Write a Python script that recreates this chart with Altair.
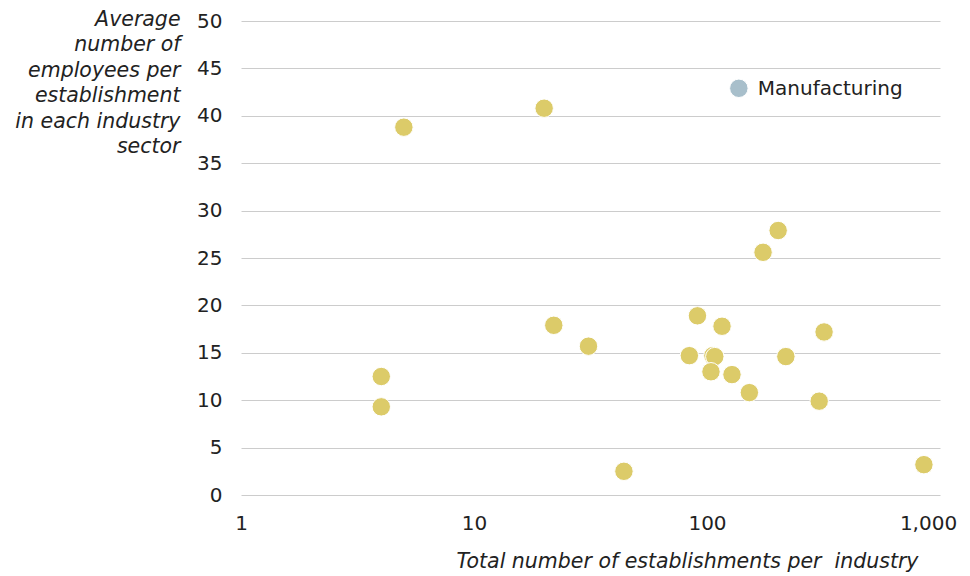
import altair as alt
import pandas as pd

establishments = [4, 4, 5, 20, 22, 31, 44, 84, 91, 106, 108, 104, 128, 116, 152, 218, 318, 303, 174, 202, 853]
employees = [12.5, 9.3, 38.8, 40.8, 17.9, 15.7, 2.5, 14.7, 18.9, 14.7, 14.6, 13.0, 12.7, 17.8, 10.8, 14.6, 17.2, 9.9, 25.6, 27.9, 3.2]

manu_label = ["Manufacturing"]
manu_x = [137]
manu_y = [42.9]

y_title = ["Average", "number of", "employees per", "establishment", "in each industry", "sector"]
x_title = "Total number of establishments per\u00a0 industry"
x_ticks = [1, 10, 100, 1000]
y_ticks = [0, 5, 10, 15, 20, 25, 30, 35, 40, 45, 50]

df = pd.DataFrame({"x": establishments, "y": employees})
dm = pd.DataFrame({"x": manu_x, "y": manu_y, "label": manu_label})

FONT = "DejaVu Sans"
FS = 20
TFS = 20.5

xs = alt.Scale(type="log", domain=[1, 1000])
ys = alt.Scale(domain=[0, 50])

xenc = alt.X("x:Q", scale=xs, axis=alt.Axis(
    values=x_ticks, format=",d", grid=False, domain=False, ticks=False,
    labelFont=FONT, labelFontSize=FS, labelColor="#222", labelPadding=18,
    labelFlush=False, labelOverlap=False,
    labelOffset={"condition": {"test": "datum.value >= 1000", "value": -12}, "value": 0},
    title=x_title, titleFont=FONT, titleFontSize=TFS, titleFontStyle="italic",
    titleFontWeight="normal", titleColor="#222", titleAlign="right",
    titleAnchor="start", titleX=677, titleY=76, titleBaseline="bottom"))
yenc = alt.Y("y:Q", scale=ys, axis=alt.Axis(
    values=y_ticks, grid=True, gridColor="#cccccc", gridWidth=1,
    domain=False, ticks=False, labelFont=FONT, labelFontSize=FS,
    labelColor="#222", labelPadding=19,
    title=y_title, titleFont=FONT, titleFontSize=TFS, titleFontStyle="italic",
    titleFontWeight="normal", titleColor="#222", titleAngle=0,
    titleAlign="right", titleBaseline="top", titleX=-61, titleY=-12,
    titleLineHeight=25.5))

points = alt.Chart(df).mark_circle(
    size=340, opacity=1, color="#dccb69", stroke="white", strokeWidth=1
).encode(x=xenc, y=yenc)

manu = alt.Chart(dm).mark_circle(
    size=340, opacity=1, color="#a8bfcb", stroke="white", strokeWidth=1
).encode(x=alt.X("x:Q", scale=xs), y=alt.Y("y:Q", scale=ys))

manu_text = alt.Chart(dm).mark_text(
    align="left", baseline="middle", dx=19, dy=1, font=FONT, fontSize=FS, color="#222"
).encode(x=alt.X("x:Q", scale=xs), y=alt.Y("y:Q", scale=ys), text="label:N")

chart = alt.layer(points, manu, manu_text).properties(
    width=699, height=474,
    autosize=alt.AutoSizeParams(type="none"),
    padding={"left": 233, "top": 13, "right": 22, "bottom": 79},
).configure_view(stroke=None)

chart.save("out.html", embed_options={"renderer": "svg", "actions": False})
